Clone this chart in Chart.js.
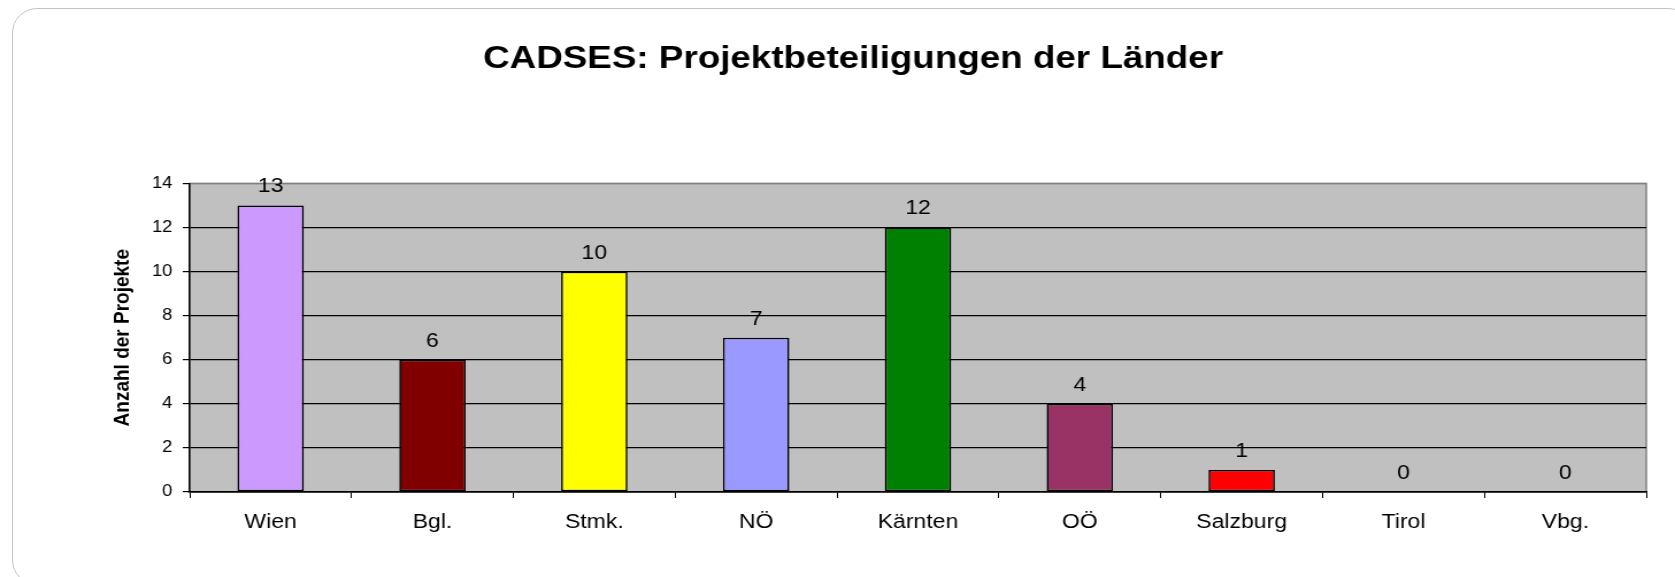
<!DOCTYPE html>
<html>
<head>
<meta charset="utf-8">
<script src="https://cdn.jsdelivr.net/npm/chart.js@4/dist/chart.umd.min.js"></script>
<style>
    html, body { margin: 0; padding: 0; background: #fff; overflow: hidden; }
    #frame {
        position: absolute; left: 12px; top: 8px; width: 1681px; height: 577px;
        border: 1.5px solid #c4c4c4; border-radius: 25px; box-sizing: border-box;
    }
    #chart-cadses { position: absolute; left: 0; top: 0; }
</style>
</head>
<body>
<div id="frame"></div>
<!-- the original picture is stretched sideways, so the canvas is drawn narrower and widened by css -->
<canvas id="chart-cadses" width="1457" height="577" style="width:1675px;height:577px"></canvas>
<script>
const laender = ['Wien', 'Bgl.', 'Stmk.', 'NÖ', 'Kärnten', 'OÖ', 'Salzburg', 'Tirol', 'Vbg.'];
const projekte = [13, 6, 10, 7, 12, 4, 1, 0, 0];
const balkenFarben = ['#cc99ff', '#800000', '#ffff00', '#9999ff', '#008000', '#993366', '#ff0000', '#00ffff', '#800080'];
const yMax = 14;
const yStep = 2;

const fontFamily = '"Liberation Sans", Arial, sans-serif';

const plotBackground = {
    id: 'plotBackground',
    beforeDraw(chart) {
        const {ctx, chartArea} = chart;
        ctx.save();
        ctx.fillStyle = '#c0c0c0';
        ctx.fillRect(chartArea.left, chartArea.top, chartArea.right - chartArea.left, chartArea.bottom - chartArea.top);
        ctx.strokeStyle = '#808080';
        ctx.lineWidth = 1.5;
        ctx.strokeRect(chartArea.left, chartArea.top, chartArea.right - chartArea.left, chartArea.bottom - chartArea.top);
        ctx.restore();
    }
};

const valueLabels = {
    id: 'valueLabels',
    afterDatasetsDraw(chart) {
        const ctx = chart.ctx;
        ctx.save();
        ctx.font = '20px ' + fontFamily;
        ctx.fillStyle = '#000';
        ctx.textAlign = 'center';
        ctx.textBaseline = 'alphabetic';
        chart.getDatasetMeta(0).data.forEach((bar, i) => {
            ctx.fillText(String(projekte[i]), bar.x, bar.y - 13);
        });
        ctx.restore();
    }
};

new Chart(document.getElementById('chart-cadses'), {
    type: 'bar',
    data: {
        labels: laender,
        datasets: [{
            data: projekte,
            backgroundColor: balkenFarben,
            borderColor: '#000',
            borderWidth: (ctx) => (projekte[ctx.dataIndex] === 0 ? 0 : 1.6),
            borderSkipped: false,
            categoryPercentage: 1,
            barPercentage: 0.41
        }]
    },
    options: {
        responsive: false,
        animation: false,
        devicePixelRatio: 1,
        layout: {
            padding: { left: 52, right: 25, top: 0, bottom: 0 }
        },
        plugins: {
            legend: { display: false },
            tooltip: { enabled: false },
            title: {
                display: true,
                text: 'CADSES: Projektbeteiligungen der Länder',
                color: '#000',
                font: { family: fontFamily, size: 32, weight: 'bold' },
                padding: { top: 40, bottom: 105 }
            }
        },
        scales: {
            x: {
                afterFit: (scale) => { scale.height = 85; },
                grid: {
                    display: true,
                    drawOnChartArea: false,
                    color: '#000',
                    tickLength: 6
                },
                border: { color: '#000', width: 1.5 },
                ticks: {
                    color: '#000',
                    font: { family: fontFamily, size: 20 },
                    padding: 12,
                    maxRotation: 0
                }
            },
            y: {
                min: 0,
                max: yMax,
                afterFit: (scale) => { scale.width = 113; },
                grid: {
                    color: (ctx) => (ctx.tick && ctx.tick.value === yMax ? '#808080' : '#000'),
                    tickColor: '#000',
                    lineWidth: 1.2,
                    tickLength: 6
                },
                border: { color: '#000', width: 1.5 },
                ticks: {
                    stepSize: yStep,
                    color: '#000',
                    font: { family: fontFamily, size: 16 },
                    padding: 9
                },
                title: {
                    display: true,
                    text: 'Anzahl der Projekte',
                    color: '#000',
                    font: { family: fontFamily, size: 19, weight: 'bold' },
                    padding: { top: 43, bottom: 0 }
                }
            }
        }
    },
    plugins: [plotBackground, valueLabels]
});
</script>
</body>
</html>
